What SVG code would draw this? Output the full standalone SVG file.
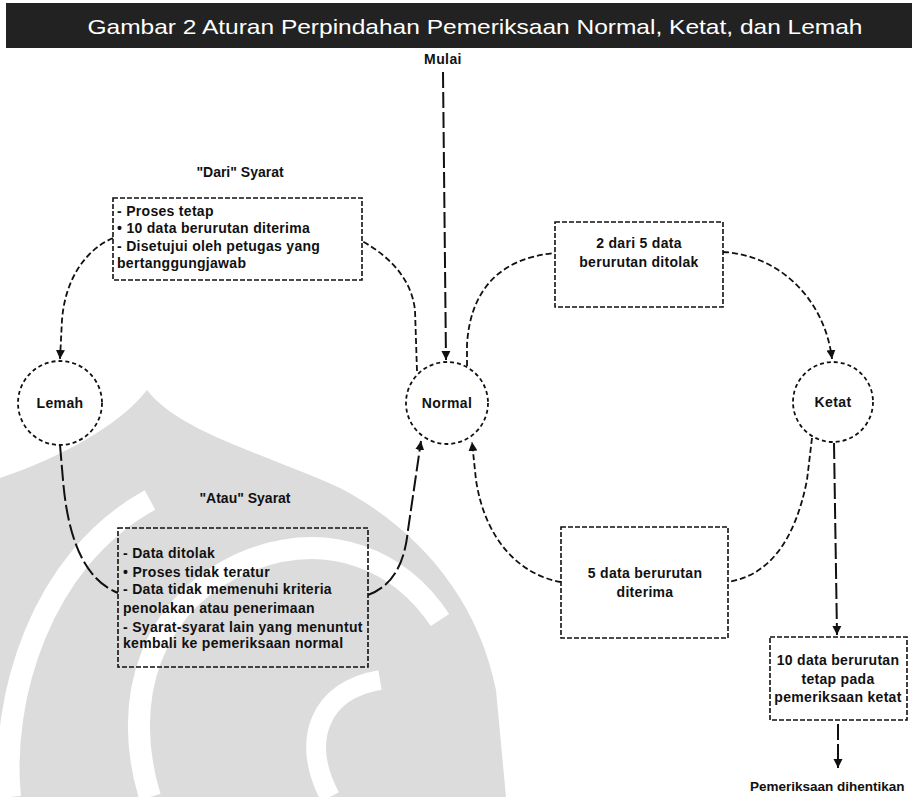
<svg xmlns="http://www.w3.org/2000/svg" width="917" height="797" viewBox="0 0 917 797">
<defs>
<marker id="arr" viewBox="0 0 10 10" refX="10" refY="5" markerWidth="9" markerHeight="10" markerUnits="userSpaceOnUse" orient="auto">
<path d="M0,0 L10,5 L0,10 Z" fill="#111"/>
</marker>
<style>
.t{font-family:"Liberation Sans",Arial,sans-serif;font-weight:bold;fill:#111}
.bt{font-size:14px;letter-spacing:0.3px}
.nl{font-size:14px;letter-spacing:0.4px}
.nd{fill:none;stroke:#111;stroke-width:1.8;stroke-dasharray:4 3}
.bx{fill:none;stroke:#111;stroke-width:1.6;stroke-dasharray:5 2}
.cn{fill:none;stroke:#111;stroke-width:1.8;stroke-dasharray:6 3}
.sl{fill:none;stroke:#111;stroke-width:2;stroke-dasharray:16 4}
</style>
</defs>
<rect width="917" height="797" fill="#fff"/>
<g id="watermark">
<path d="M0 478 C60 458 120 425 147 390 C180 432 260 452 340 488 C420 530 478 600 496 690 L506 797 L0 797 Z" fill="#dcdcdc"/>
<path d="M10 797 C0 700 40 560 150 500" fill="none" stroke="#fff" stroke-width="22"/>
<path d="M150 797 C120 700 150 600 250 560 C330 530 400 560 440 620" fill="none" stroke="#fff" stroke-width="22"/>
<path d="M330 797 C300 740 320 690 380 680" fill="none" stroke="#fff" stroke-width="20"/>
</g>
<g id="title">
<rect x="6" y="3" width="906" height="45" fill="#222"/>
<text x="475" y="34" text-anchor="middle" font-family="Liberation Sans, Arial, sans-serif" font-size="21" fill="#fff" textLength="775" lengthAdjust="spacingAndGlyphs">Gambar 2 Aturan Perpindahan Pemeriksaan Normal, Ketat, dan Lemah</text>
</g>
<g id="connectors">
<path class="sl" d="M443 72 L446 360" marker-end="url(#arr)"/>
<path class="cn" d="M417 371 L415 310 Q410 268 362 241"/>
<path class="cn" d="M113 238 C85 250 65 280 62 320 L60 359" marker-end="url(#arr)"/>
<path class="sl" d="M60 445 L63 480 C68 540 85 580 118 593"/>
<path class="sl" d="M368 595 C395 585 405 560 408 530 L421 441" marker-end="url(#arr)"/>
<path class="cn" d="M467 366 L467 345 C470 290 500 258 555 253"/>
<path class="cn" d="M723 252 C780 255 825 300 832 359" marker-end="url(#arr)"/>
<path class="cn" d="M812 438 L807 480 C795 540 770 575 728 582"/>
<path class="cn" d="M561 582 C520 575 485 540 476 480 L472 442" marker-end="url(#arr)"/>
<path class="sl" d="M834 443 L837 635" marker-end="url(#arr)"/>
<path class="sl" d="M838 724 L838 768" marker-end="url(#arr)"/>
</g>
<g id="mulai">
<text class="t nl" x="443" y="64" text-anchor="middle">Mulai</text>
</g>
<g id="lemah">
<circle class="nd" cx="60" cy="403" r="42"/>
<text class="t nl" x="60" y="408" text-anchor="middle">Lemah</text>
</g>
<g id="normal">
<circle class="nd" cx="447" cy="403" r="41"/>
<text class="t nl" x="447" y="408" text-anchor="middle">Normal</text>
</g>
<g id="ketat">
<circle class="nd" cx="833" cy="402" r="40"/>
<text class="t nl" x="833" y="407" text-anchor="middle">Ketat</text>
</g>
<g id="syarat-dari">
<text class="t" font-size="14" x="240" y="177" text-anchor="middle">"Dari" Syarat</text>
<rect class="bx" x="113" y="198" width="249" height="82"/>
<text class="t bt" x="117" y="216">- Proses tetap</text>
<text class="t bt" x="117" y="233">• 10 data berurutan diterima</text>
<text class="t bt" x="117" y="251">- Disetujui oleh petugas yang</text>
<text class="t bt" x="117" y="268">bertanggungjawab</text>
</g>
<g id="syarat-atau">
<text class="t" font-size="14" x="245" y="503" text-anchor="middle">"Atau" Syarat</text>
<rect class="bx" x="118" y="528" width="250" height="139"/>
<text class="t bt" x="123" y="558">- Data ditolak</text>
<text class="t bt" x="123" y="577">• Proses tidak teratur</text>
<text class="t bt" x="123" y="594">- Data tidak memenuhi kriteria</text>
<text class="t bt" x="123" y="613">penolakan atau penerimaan</text>
<text class="t bt" x="123" y="632">- Syarat-syarat lain yang menuntut</text>
<text class="t bt" x="123" y="648">kembali ke pemeriksaan normal</text>
</g>
<g id="box-ditolak">
<rect class="bx" x="555" y="222" width="168" height="85"/>
<text class="t bt" x="639" y="248" text-anchor="middle">2 dari 5 data</text>
<text class="t bt" x="639" y="267" text-anchor="middle">berurutan ditolak</text>
</g>
<g id="box-diterima">
<rect class="bx" x="561" y="527" width="167" height="111"/>
<text class="t bt" x="645" y="578" text-anchor="middle">5 data berurutan</text>
<text class="t bt" x="645" y="597" text-anchor="middle">diterima</text>
</g>
<g id="box-ketat">
<rect class="bx" x="770" y="637" width="137" height="83"/>
<text class="t bt" x="838" y="665" text-anchor="middle">10 data berurutan</text>
<text class="t bt" x="838" y="684" text-anchor="middle">tetap pada</text>
<text class="t bt" x="838" y="702" text-anchor="middle">pemeriksaan ketat</text>
</g>
<g id="berhenti">
<text class="t" font-size="13.5" x="750" y="791">Pemeriksaan dihentikan</text>
</g>
</svg>
